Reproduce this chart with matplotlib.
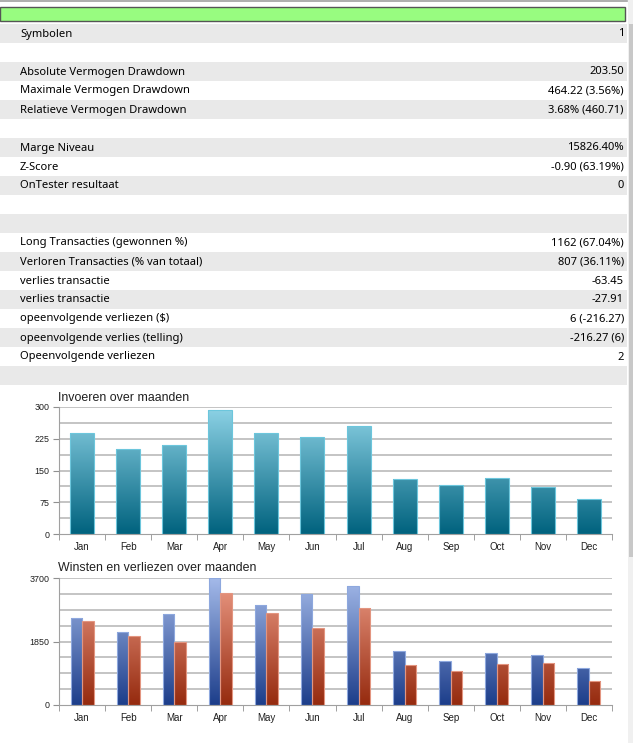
import numpy as np
import matplotlib
matplotlib.use("Agg")
import matplotlib.pyplot as plt
import matplotlib.patches as patches
from matplotlib.colors import LinearSegmentedColormap

# report rows (label, value); "" rows are empty separators
row_labels = ["Symbolen", "",
              "Absolute Vermogen Drawdown", "Maximale Vermogen Drawdown", "Relatieve Vermogen Drawdown", "",
              "Marge Niveau", "Z-Score", "OnTester resultaat", "", "",
              "Long Transacties (gewonnen %)", "Verloren Transacties (% van totaal)",
              "verlies transactie", "verlies transactie",
              "opeenvolgende verliezen ($)", "opeenvolgende verlies (telling)",
              "Opeenvolgende verliezen", ""]
row_values = ["1", "",
              "203.50", "464.22 (3.56%)", "3.68% (460.71)", "",
              "15826.40%", "-0.90 (63.19%)", "0", "", "",
              "1162 (67.04%)", "807 (36.11%)",
              "-63.45", "-27.91",
              "6 (-216.27)", "-216.27 (6)",
              "2", ""]

months = ["Jan", "Feb", "Mar", "Apr", "May", "Jun", "Jul", "Aug", "Sep", "Oct", "Nov", "Dec"]
entries = [239, 201, 210, 293, 239, 228, 255, 130, 115, 133, 112, 82]
profits = [2535, 2127, 2651, 3700, 2902, 3243, 3467, 1582, 1270, 1515, 1457, 1087]
losses = [2456, 2010, 1835, 3272, 2690, 2252, 2835, 1165, 1000, 1183, 1232, 699]

W, H = 633, 743
fig = plt.figure(figsize=(W / 100, H / 100), dpi=100)

# background layer in pixel coordinates
bg = fig.add_axes([0, 0, 1, 1])
bg.set_xlim(0, W)
bg.set_ylim(H, 0)
bg.axis("off")

row_font = dict(family=["Noto Sans", "DejaVu Sans"], fontsize=8.05, color="black")

bg.plot([0, 627], [1, 1], color="#a0a0a0", lw=1.2)
bg.add_patch(patches.Rectangle((0, 7), 625, 14, facecolor="#98fc80", edgecolor="#555555", lw=1))

row_h = 19
top = 24
for i, (lab, val) in enumerate(zip(row_labels, row_values)):
    y0 = top + i * row_h
    if i % 2 == 0:
        bg.add_patch(patches.Rectangle((0, y0), 627, row_h, facecolor="#e9e9e9", edgecolor="none"))
    if lab:
        bg.text(20, y0 + row_h / 2 + 0.5, lab, ha="left", va="center", **row_font)
    if val:
        bg.text(624, y0 + row_h / 2 + 0.5, val, ha="right", va="center", **row_font)

# scrollbar
bg.add_patch(patches.Rectangle((628, 0), 5, H, facecolor="#f0f0f0", edgecolor="none"))
bg.add_patch(patches.Rectangle((629, 24), 4, 533, facecolor="#c8c8c8", edgecolor="none"))


def px_axes(x0, y_top, x1, y_bot):
    return fig.add_axes([x0 / W, 1 - y_bot / H, (x1 - x0) / W, (y_bot - y_top) / H])


def style_axes(ax, ymax, step, labels_at):
    ax.set_xlim(-0.5, 11.5)
    ax.set_ylim(0, ymax)
    for v in np.arange(step, ymax + step / 2, step):
        ax.axhline(v, color="#b4b4b4", lw=1.1, zorder=0)
    for s in ["top", "right"]:
        ax.spines[s].set_visible(False)
    ax.spines["left"].set_color("#a0a0a0")
    ax.spines["bottom"].set_color("#a0a0a0")
    ax.set_yticks(labels_at)
    ax.set_yticklabels([str(int(v)) for v in labels_at], fontsize=6.4,
                       family=["Liberation Sans"], color="#202020")
    ax.set_xticks(range(12))
    ax.set_xticklabels(months, fontsize=7.0, family=["Liberation Sans"], color="#202020")
    ax.set_xticks(np.arange(-0.5, 12, 1), minor=True)
    ax.tick_params(axis="x", which="major", length=0, pad=6)
    ax.tick_params(axis="x", which="minor", length=4, color="#909090")
    ax.tick_params(axis="y", length=4, color="#909090", pad=3)
    ax.set_facecolor("white")


def gradient_fill(ax, bars, ymax, c_lo, c_hi, edge):
    cmap = LinearSegmentedColormap.from_list("g", [c_lo, c_hi])
    grad = np.linspace(0, 1, 256).reshape(-1, 1)
    for b in bars:
        im = ax.imshow(grad, extent=[-0.5, 11.5, 0, ymax], origin="lower",
                       aspect="auto", cmap=cmap, zorder=2)
        im.set_clip_path(b)
        b.set_edgecolor(edge)
        b.set_linewidth(0.8)
        b.set_zorder(3)


x = np.arange(12)

# chart 1
ax1 = px_axes(59, 407, 612, 534)
style_axes(ax1, 300, 37.5, [0, 75, 150, 225, 300])
bars1 = ax1.bar(x, entries, width=0.52, facecolor="none")
gradient_fill(ax1, bars1, 300, "#00627e", "#8fd4e7", "#6cc6dc")
ax1.set_xlim(-0.5, 11.5)
ax1.set_ylim(0, 300)
fig.text(58 / W, 1 - 398 / H, "Invoeren over maanden", ha="left", va="center",
         fontsize=8.9, family=["Liberation Sans"], color="#202020")

# chart 2
ax2 = px_axes(59, 578, 612, 705)
style_axes(ax2, 3700, 462.5, [0, 1850, 3700])
bw = 0.25
bars_p = ax2.bar(x - bw / 2, profits, width=bw, facecolor="none")
bars_l = ax2.bar(x + bw / 2, losses, width=bw, facecolor="none")
gradient_fill(ax2, bars_p, 3700, "#1c3d8a", "#a5bbea", "#8ea8de")
gradient_fill(ax2, bars_l, 3700, "#952a0e", "#ee9d88", "#e39580")
ax2.set_xlim(-0.5, 11.5)
ax2.set_ylim(0, 3700)
fig.text(58 / W, 1 - 568 / H, "Winsten en verliezen over maanden", ha="left", va="center",
         fontsize=8.9, family=["Liberation Sans"], color="#202020")

fig.savefig("out.png", dpi=100)
